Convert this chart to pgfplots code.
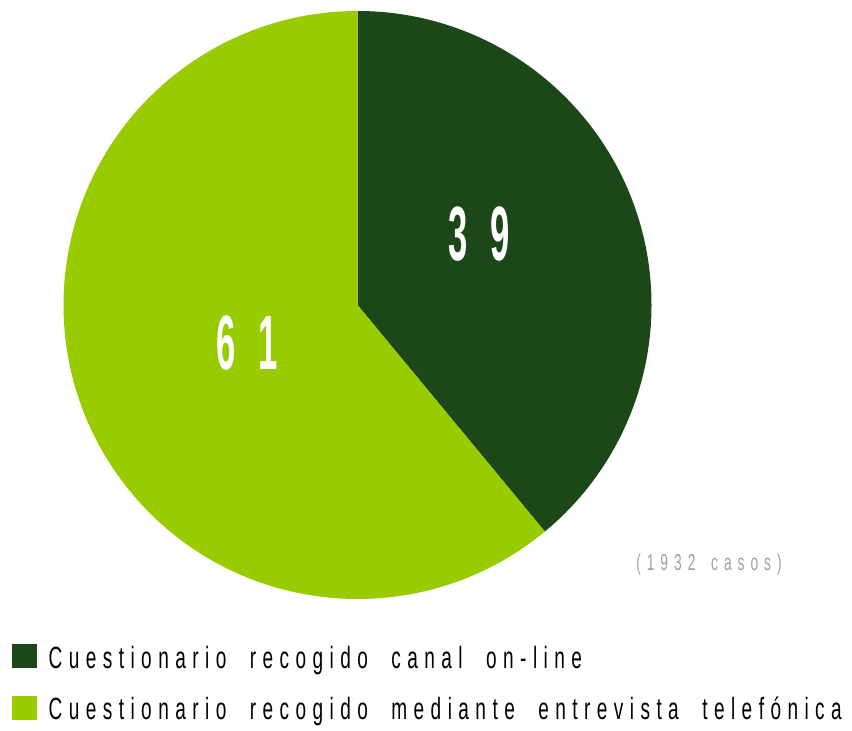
\documentclass[border=0pt]{standalone}
\usepackage{pgfplots}
\pgfplotsset{compat=1.18}
\usepackage{pgfplotstable}
\usepackage{fontspec}
\setmainfont{Liberation Sans}
\newfontfamily\legfont{Liberation Sans}[FakeStretch=0.62,LetterSpace=21,WordSpace=2.0]
\newfontfamily\numfont{Liberation Sans}[FakeStretch=0.45,LetterSpace=30]
\newfontfamily\notefont{Liberation Sans}[FakeStretch=0.6,LetterSpace=26,WordSpace=1.6]

\definecolor{oscuro}{HTML}{1B4719}
\definecolor{claro}{HTML}{99CC00}
\definecolor{gris}{HTML}{A0A0A0}

% porcentaje por canal
\pgfplotstableread{
canal valor
online 39
telefonica 61
}\datos

\begin{document}
\begin{tikzpicture}
\pgfplotstablegetelem{0}{valor}\of\datos \let\va\pgfplotsretval
\pgfplotstablegetelem{1}{valor}\of\datos \let\vb\pgfplotsretval
\begin{axis}[
  x=1pt, y=1pt,
  xmin=0, xmax=852, ymin=0, ymax=731,
  enlargelimits=false,
  hide axis, clip=false,
  legend image code/.code={\fill[#1] (0pt,-11pt) rectangle (24pt,12pt);},
  legend cell align=left,
  legend style={draw=none, fill=none, at={(axis cs:12,11)}, anchor=south west,
    inner sep=0pt, row sep=28pt,
    nodes={inner sep=0pt, text height=23pt, text depth=0pt},
    /tikz/every odd column/.style={column sep=12pt},
    font=\legfont\fontsize{30.7}{36}\selectfont},
]
\path (axis cs:0,0) rectangle (axis cs:852,731);
\addlegendimage{oscuro}
\addlegendentry{Cuestionario recogido canal on-line}
\addlegendimage{claro}
\addlegendentry{Cuestionario recogido mediante entrevista telefónica}

\fill[oscuro] (axis cs:357.5,426) -- ++(90:294pt)
  arc[start angle=90, end angle={90-3.6*\va}, radius=294pt] -- cycle;
\fill[claro] (axis cs:357.5,426) -- ++({90-3.6*\va}:294pt)
  arc[start angle={90-3.6*\va}, end angle={90-3.6*\va-3.6*\vb}, radius=294pt] -- cycle;

\node[text=white, inner sep=0pt, font=\numfont\bfseries\fontsize{77}{82}\selectfont]
  at (axis cs:479,497) {\va};
\node[text=white, inner sep=0pt, font=\numfont\bfseries\fontsize{77}{82}\selectfont]
  at (axis cs:247,388) {\vb};
\node[text=gris, inner sep=0pt, font=\notefont\fontsize{23}{28}\selectfont]
  at (axis cs:709,166) {(1932 casos)};
\end{axis}
\end{tikzpicture}
\end{document}
